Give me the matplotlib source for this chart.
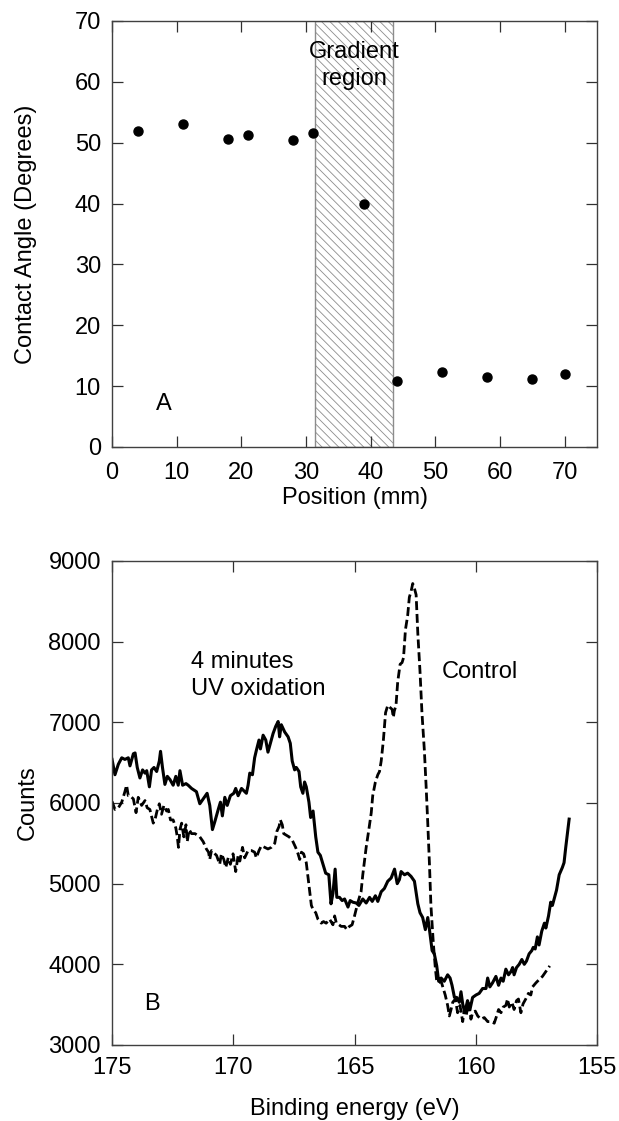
import numpy as np
import matplotlib
matplotlib.use("Agg")
import matplotlib.pyplot as plt

plt.rcParams['font.family'] = ['Liberation Sans', 'DejaVu Sans']
plt.rcParams['font.size'] = 17
plt.rcParams['hatch.linewidth'] = 0.6
plt.rcParams['hatch.color'] = '#8c8c8c'

# panel A: contact angle along the sample
position = [4, 11, 18, 21, 28, 31, 39, 44, 51, 58, 65, 70]
angle = [52.0, 53.1, 50.6, 51.2, 50.4, 51.6, 40.0, 10.9, 12.3, 11.5, 11.1, 12.0]
gradient_span = [31.4, 43.4]

# panel B: XPS spectra, 4 minutes UV oxidation (solid)
uv_ev = [175.00, 174.88, 174.74, 174.60, 174.47, 174.33, 174.26, 174.12, 174.05, 173.96,
         173.85, 173.74, 173.64, 173.57, 173.46, 173.37, 173.27, 173.16, 173.05, 173.00,
         172.92, 172.82, 172.72, 172.61, 172.48, 172.37, 172.27, 172.20, 172.09, 171.95,
         171.86, 171.72, 171.52, 171.38, 171.24, 171.08, 170.97, 170.86, 170.76, 170.62,
         170.53, 170.45, 170.35, 170.25, 170.12, 169.98, 169.90, 169.80, 169.66, 169.46,
         169.39, 169.32, 169.21, 169.12, 169.05, 168.94, 168.88, 168.77, 168.66, 168.57,
         168.47, 168.36, 168.25, 168.15, 168.09, 168.02, 167.88, 167.74, 167.65, 167.57,
         167.47, 167.40, 167.29, 167.22, 167.13, 167.06, 166.99, 166.88, 166.81, 166.71,
         166.60, 166.51, 166.41, 166.30, 166.19, 166.06, 165.97, 165.89, 165.80, 165.73,
         165.62, 165.51, 165.41, 165.27, 165.18, 165.07, 164.93, 164.82, 164.66, 164.52,
         164.38, 164.27, 164.14, 164.04, 163.90, 163.77, 163.63, 163.49, 163.35, 163.24,
         163.15, 163.08, 162.94, 162.81, 162.67, 162.53, 162.39, 162.30, 162.19, 162.08,
         161.98, 161.91, 161.80, 161.71, 161.61, 161.53, 161.43, 161.30, 161.16, 161.06,
         160.98, 160.88, 160.79, 160.68, 160.61, 160.54, 160.47, 160.40, 160.34, 160.24,
         160.13, 159.99, 159.86, 159.72, 159.58, 159.51, 159.42, 159.31, 159.17, 159.06,
         158.96, 158.87, 158.76, 158.65, 158.55, 158.48, 158.42, 158.32, 158.21, 158.10,
         158.00, 157.91, 157.80, 157.69, 157.63, 157.55, 157.46, 157.39, 157.28, 157.17,
         157.11, 157.00, 156.91, 156.84, 156.77, 156.67, 156.56, 156.43, 156.36, 156.29,
         156.15]
uv_counts = [6540, 6350, 6480, 6560, 6540, 6560, 6460, 6610, 6620, 6440,
             6310, 6410, 6370, 6400, 6200, 6410, 6440, 6390, 6520, 6640,
             6440, 6230, 6330, 6290, 6220, 6330, 6220, 6400, 6220, 6240,
             6220, 6180, 6140, 5990, 6050, 6120, 5970, 5670, 5770, 5920,
             6010, 5840, 6070, 5970, 6090, 6120, 6180, 6090, 6180, 6120,
             6220, 6370, 6350, 6560, 6650, 6780, 6670, 6840, 6780, 6630,
             6740, 6860, 6950, 7010, 6820, 6970, 6880, 6820, 6740, 6520,
             6410, 6440, 6390, 6200, 6120, 6260, 6200, 6010, 5820, 5900,
             5580, 5390, 5350, 5240, 5130, 5110, 4750, 4880, 5180, 4830,
             4830, 4790, 4810, 4710, 4790, 4770, 4760, 4730, 4810, 4760,
             4830, 4780, 4850, 4780, 4900, 4940, 5030, 5070, 5180, 5000,
             5050, 5150, 5110, 5130, 5090, 5030, 4750, 4640, 4580, 4430,
             4580, 4430, 4170, 4130, 3980, 3790, 3830, 3790, 3870, 3830,
             3740, 3590, 3590, 3530, 3660, 3510, 3420, 3470, 3550, 3440,
             3590, 3620, 3640, 3700, 3700, 3830, 3720, 3770, 3850, 3740,
             3830, 3790, 3940, 3870, 3910, 3960, 3870, 3960, 4000, 4060,
             4000, 4040, 4130, 4170, 4210, 4190, 4340, 4240, 4410, 4510,
             4450, 4600, 4770, 4730, 4810, 4920, 5110, 5200, 5260, 5450,
             5800]

# control (dashed)
ctrl_ev = [175.00, 174.88, 174.74, 174.60, 174.47, 174.40, 174.33, 174.26, 174.12, 174.01,
           173.92, 173.78, 173.64, 173.55, 173.44, 173.30, 173.23, 173.13, 173.05, 172.96,
           172.86, 172.75, 172.68, 172.59, 172.48, 172.37, 172.31, 172.26, 172.20, 172.13,
           172.04, 171.95, 171.90, 171.82, 171.72, 171.58, 171.38, 171.24, 171.11, 171.02,
           170.97, 170.90, 170.83, 170.69, 170.56, 170.49, 170.39, 170.31, 170.21, 170.12,
           170.01, 169.90, 169.80, 169.73, 169.62, 169.53, 169.39, 169.25, 169.12, 169.05,
           168.94, 168.84, 168.70, 168.57, 168.43, 168.29, 168.20, 168.11, 168.06, 167.98,
           167.92, 167.81, 167.70, 167.57, 167.43, 167.33, 167.26, 167.19, 167.10, 166.99,
           166.88, 166.78, 166.71, 166.60, 166.51, 166.37, 166.28, 166.17, 166.03, 165.89,
           165.82, 165.75, 165.64, 165.55, 165.41, 165.32, 165.21, 165.10, 165.00, 164.86,
           164.73, 164.66, 164.52, 164.41, 164.31, 164.25, 164.14, 164.04, 163.97, 163.90,
           163.81, 163.72, 163.63, 163.56, 163.45, 163.40, 163.36, 163.29, 163.22, 163.12,
           163.04, 162.98, 162.90, 162.81, 162.74, 162.67, 162.60, 162.53, 162.46, 162.39,
           162.30, 162.22, 162.12, 162.05, 161.98, 161.91, 161.85, 161.75, 161.67, 161.61,
           161.53, 161.43, 161.34, 161.26, 161.16, 161.09, 161.02, 160.95, 160.84, 160.75,
           160.65, 160.54, 160.47, 160.40, 160.29, 160.20, 160.13, 160.02, 159.92, 159.79,
           159.65, 159.51, 159.33, 159.24, 159.14, 159.06, 158.96, 158.87, 158.76, 158.69,
           158.62, 158.51, 158.42, 158.32, 158.24, 158.14, 158.05, 157.94, 157.83, 157.73,
           157.66, 157.52, 157.39, 157.25, 157.11, 156.95]
ctrl_counts = [6020, 5920, 5940, 6010, 6140, 6220, 6090, 6090, 6050, 5880,
               6070, 5970, 6030, 5940, 5920, 5750, 5790, 5920, 5990, 5860,
               5970, 5900, 5920, 5790, 5790, 5690, 5580, 5450, 5670, 5750,
               5580, 5730, 5520, 5670, 5620, 5620, 5580, 5520, 5430, 5390,
               5300, 5410, 5390, 5350, 5240, 5370, 5300, 5200, 5320, 5240,
               5370, 5150, 5350, 5280, 5450, 5320, 5410, 5410, 5390, 5320,
               5410, 5470, 5450, 5430, 5450, 5500, 5650, 5710, 5790, 5730,
               5620, 5600, 5580, 5540, 5450, 5370, 5300, 5390, 5370, 5260,
               4980, 4730, 4680, 4640, 4560, 4510, 4530, 4510, 4560, 4490,
               4600, 4510, 4490, 4470, 4470, 4430, 4470, 4490, 4600, 4770,
               4900, 5110, 5450, 5670, 5880, 6090, 6260, 6350, 6390, 6520,
               6780, 7120, 7210, 7190, 7160, 7060, 7140, 7210, 7500, 7720,
               7740, 7800, 8150, 8320, 8550, 8620, 8720, 8660, 8580, 8100,
               7630, 7120, 6650, 6220, 5750, 5240, 4730, 4260, 3960, 3790,
               3770, 3790, 3700, 3620, 3490, 3360, 3440, 3530, 3570, 3400,
               3490, 3290, 3440, 3360, 3530, 3320, 3400, 3420, 3360, 3320,
               3340, 3290, 3290, 3270, 3360, 3440, 3400, 3470, 3490, 3570,
               3470, 3530, 3440, 3550, 3570, 3400, 3510, 3570, 3640, 3620,
               3720, 3770, 3810, 3850, 3910, 3980]

fig = plt.figure(figsize=(6.19, 11.21), dpi=100)
ax1 = fig.add_axes([0.181, 0.6013, 0.7835, 0.3800])
ax2 = fig.add_axes([0.181, 0.0678, 0.7835, 0.4318])

for ax in (ax1, ax2):
    for s in ax.spines.values():
        s.set_color('#404040')
        s.set_linewidth(1.0)
    ax.tick_params(direction='in', length=8, width=0.9, color='#303030',
                   top=True, right=True, labelsize=17)
    ax.tick_params(axis='y', pad=8)
ax1.tick_params(axis='x', pad=11)
ax2.tick_params(axis='x', pad=9)

# panel A
ax1.axvspan(gradient_span[0], gradient_span[1], facecolor='white',
            edgecolor='#8c8c8c', hatch='\\\\\\\\', lw=1.0, zorder=1)
ax1.plot(position, angle, 'o', color='black', ms=6.5, zorder=3)
ax1.set_xlim(0, 75)
ax1.set_ylim(0, 70)
ax1.set_xticks(np.arange(0, 71, 10))
ax1.set_yticks(np.arange(0, 71, 10))
ax1.set_xlabel('Position (mm)', fontsize=17, labelpad=2)
ax1.set_ylabel('Contact Angle (Degrees)', fontsize=17, labelpad=27)
ax1.text(37.4, 62.7, 'Gradient\nregion', ha='center', va='center',
         fontsize=17, linespacing=1.25, zorder=4)
ax1.text(8.0, 7.1, 'A', ha='center', va='center', fontsize=17)

# panel B
ax2.plot(uv_ev, uv_counts, '-', color='black', lw=2.2)
ax2.plot(ctrl_ev, ctrl_counts, color='black', lw=2.0, linestyle=(0, (3.2, 1.4)))
ax2.set_xlim(175, 155)
ax2.set_ylim(3000, 9000)
ax2.set_xticks([175, 170, 165, 160, 155])
ax2.set_yticks(np.arange(3000, 9001, 1000))
ax2.set_xlabel('Binding energy (eV)', fontsize=17, labelpad=13)
ax2.set_ylabel('Counts', fontsize=17, labelpad=7)
ax2.text(171.76, 7580, '4 minutes\nUV oxidation', ha='left', va='center',
         fontsize=17, linespacing=1.25)
ax2.text(161.39, 7628, 'Control', ha='left', va='center', fontsize=17)
ax2.text(173.35, 3508, 'B', ha='center', va='center', fontsize=17)

fig.savefig('out.png', dpi=100)
